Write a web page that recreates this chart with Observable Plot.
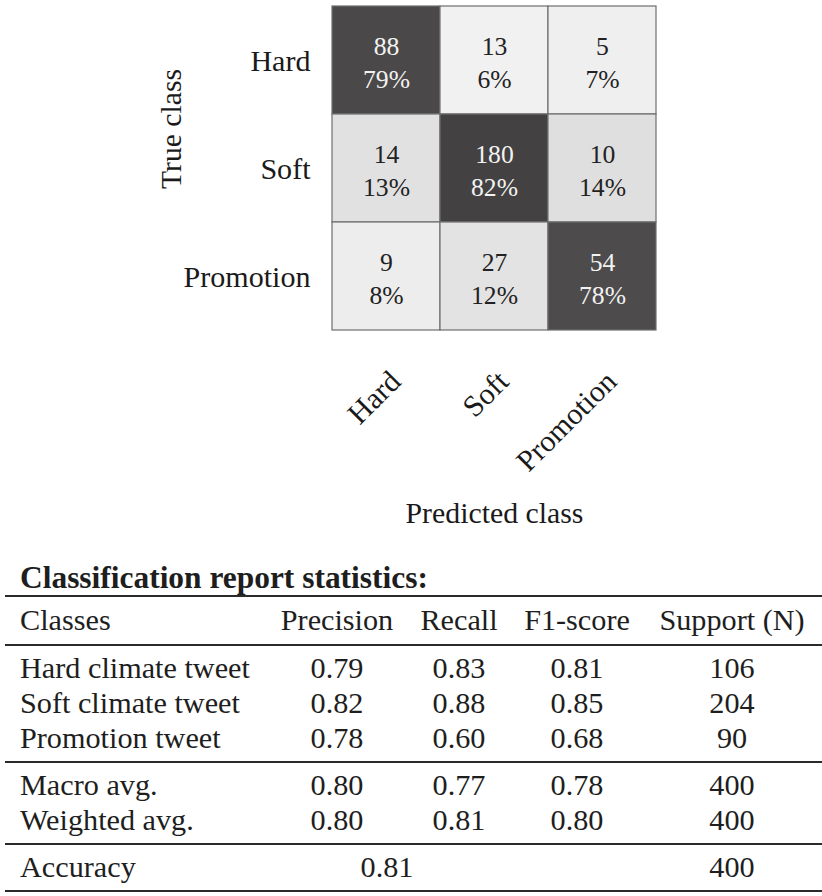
<!DOCTYPE html>
<html>
<head>
<meta charset="utf-8">
<script src="https://cdn.jsdelivr.net/npm/d3@7"></script>
<script src="https://cdn.jsdelivr.net/npm/@observablehq/plot@0.6"></script>
<style>
  body { margin: 0; background: #fff; }
  #wrap { position: relative; width: 822px; height: 896px; font-family: 'Liberation Serif', 'DejaVu Serif', 'Times New Roman', serif; color: #1e1e1e; overflow: hidden; }
  #chart svg, #chart svg text, #chart svg tspan, #chart svg g { font-family: 'Liberation Serif', 'DejaVu Serif', 'Times New Roman', serif !important; }
  .t { position: absolute; white-space: nowrap; }
  .c { text-align: center; }
  .rule { position: absolute; left: 5px; width: 817px; background: #2a2a2a; }
  .title { position: absolute; left: 20px; font-weight: bold; line-height: 30px; height: 30px; white-space: nowrap; }
</style>
</head>
<body>
<div id="wrap">
  <div id="chart"></div>
  <div id="table"></div>
</div>
<script>
// ---- Confusion matrix data ----
const classes = ["Hard", "Soft", "Promotion"];
const counts = [
  [88, 13, 5],
  [14, 180, 10],
  [9, 27, 54]
];
const percents = [
  [79, 6, 7],
  [13, 82, 14],
  [8, 12, 78]
];
const yAxisTitle = "True class";
const xAxisTitle = "Predicted class";

// ---- Classification report data ----
const headers = ["Classes", "Precision", "Recall", "F1-score", "Support (N)"];
const reportClasses = ["Hard climate tweet", "Soft climate tweet", "Promotion tweet"];
const precision = [0.79, 0.82, 0.78];
const recall = [0.83, 0.88, 0.60];
const f1 = [0.81, 0.85, 0.68];
const support = [106, 204, 90];
const avgLabels = ["Macro avg.", "Weighted avg."];
const avgPrecision = [0.80, 0.80];
const avgRecall = [0.77, 0.81];
const avgF1 = [0.78, 0.80];
const avgSupport = [400, 400];
const accuracyLabel = "Accuracy";
const accuracy = 0.81;
const accuracySupport = 400;
const tableTitle = "Classification report statistics:";

const FONT = "'Liberation Serif', 'DejaVu Serif', 'Times New Roman', serif";
// size a font so a sample string has the width seen in the reference
const ctx = document.createElement("canvas").getContext("2d");
function fit(sample, targetWidth, weight = "normal") {
  ctx.font = `${weight} 100px ${FONT}`;
  return 100 * targetWidth / ctx.measureText(sample).width;
}
const tickSize = fit("Promotion", 127);
const cellSize = fit("13%", 47);
const titleSizeY = fit(yAxisTitle, 120);
const titleSizeX = fit(xAxisTitle, 178);
const tableSize = fit("Hard climate tweet", 230);
const headSize = fit(tableTitle, 408, "bold");

const cells = [];
classes.forEach((t, i) => classes.forEach((p, j) => {
  cells.push({trueClass: t, predClass: p, count: counts[i][j], pct: percents[i][j]});
}));
const label = d => `${d.count}\n${d.pct}%`;
const lh = 33 / cellSize;

const chart = Plot.plot({
  width: 822,
  height: 545,
  marginLeft: 331,
  marginRight: 165,
  marginTop: 5,
  marginBottom: 215,
  x: {domain: classes, padding: 0, axis: null},
  y: {domain: classes, padding: 0, axis: null},
  color: {type: "linear", domain: [0, 80], range: ["#ffffff", "#484646"]},
  style: {fontFamily: FONT, color: "#1a1a1a", background: "#fff"},
  marks: [
    Plot.cell(cells, {x: "predClass", y: "trueClass", fill: "pct", stroke: "#6e6e6e", strokeWidth: 1.2}),
    Plot.text(cells.filter(d => d.pct >= 50), {x: "predClass", y: "trueClass", text: label, fill: "#f2f2f2", fontSize: cellSize, lineHeight: lh}),
    Plot.text(cells.filter(d => d.pct < 50), {x: "predClass", y: "trueClass", text: label, fill: "#222", fontSize: cellSize, lineHeight: lh}),
    Plot.axisY({tickSize: 0, tickPadding: 21, fontSize: tickSize, label: null, dy: 1}),
    Plot.axisX({tickSize: 0, tickPadding: 46, tickRotate: -45, textAnchor: "end", lineAnchor: "middle", fontSize: tickSize, label: null, dx: 9}),
    Plot.text([yAxisTitle], {frameAnchor: "left", text: d => d, rotate: -90, textAnchor: "middle", lineAnchor: "middle", dx: -160, dy: -39, fontSize: titleSizeY}),
    Plot.text([xAxisTitle], {frameAnchor: "bottom", text: d => d, textAnchor: "middle", lineAnchor: "middle", dy: 183, fontSize: titleSizeX})
  ]
});
document.getElementById("chart").appendChild(chart);

// ---- Table (HTML, built from the arrays) ----
const table = document.getElementById("table");
const colCenters = [null, 337, 459, 577, 732];
const rowH = 35;
function addText(txt, center, cy) {
  const el = document.createElement("div");
  el.className = "t" + (center == null ? "" : " c");
  el.textContent = txt;
  el.style.fontSize = tableSize + "px";
  el.style.top = (cy - rowH / 2) + "px";
  el.style.height = rowH + "px";
  el.style.lineHeight = rowH + "px";
  if (center == null) { el.style.left = "20px"; }
  else { el.style.left = (center - 100) + "px"; el.style.width = "200px"; }
  table.appendChild(el);
}
function addRule(y, w) {
  const el = document.createElement("div");
  el.className = "rule";
  el.style.top = (y - w / 2) + "px";
  el.style.height = w + "px";
  table.appendChild(el);
}
const title = document.createElement("div");
title.className = "title";
title.textContent = tableTitle;
title.style.fontSize = headSize + "px";
title.style.top = "563px";
table.appendChild(title);

let y = 596;
addRule(y, 2.6);
const headerH = 49, pad = 6;
headers.forEach((h, i) => addText(h, colCenters[i], y + headerH / 2));
y += headerH;
addRule(y, 1.4);
let cy = y + pad + rowH / 2;
reportClasses.forEach((c, i) => {
  addText(c, null, cy);
  addText(precision[i].toFixed(2), colCenters[1], cy);
  addText(recall[i].toFixed(2), colCenters[2], cy);
  addText(f1[i].toFixed(2), colCenters[3], cy);
  addText(String(support[i]), colCenters[4], cy);
  cy += rowH;
});
y = cy - rowH / 2 + pad;
addRule(y, 1.4);
cy = y + pad + rowH / 2;
avgLabels.forEach((c, i) => {
  addText(c, null, cy);
  addText(avgPrecision[i].toFixed(2), colCenters[1], cy);
  addText(avgRecall[i].toFixed(2), colCenters[2], cy);
  addText(avgF1[i].toFixed(2), colCenters[3], cy);
  addText(String(avgSupport[i]), colCenters[4], cy);
  cy += rowH;
});
y = cy - rowH / 2 + pad;
addRule(y, 1.4);
cy = y + pad + rowH / 2;
addText(accuracyLabel, null, cy);
addText(accuracy.toFixed(2), 387, cy);
addText(String(accuracySupport), colCenters[4], cy);
y = cy + rowH / 2 + pad;
addRule(y, 2.4);
</script>
</body>
</html>
